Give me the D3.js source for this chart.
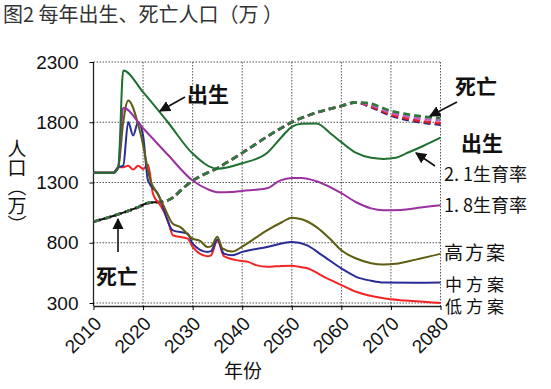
<!DOCTYPE html>
<html>
<head>
<meta charset="utf-8">
<script src="https://cdn.jsdelivr.net/npm/d3@7"></script>
<style>
  body { margin: 0; background: #fff; }
  svg { display: block; }
</style>
</head>
<body>
<script>
// tick labels
var xTicks = [2010, 2020, 2030, 2040, 2050, 2060, 2070, 2080];
var yTicks = [300, 800, 1300, 1800, 2300];

// births, [year, value]
var birth21 = [[2010,1380],[2014,1380],[2015,1426],[2016,2230],[2020,2050],[2025,1800],[2030,1540],[2035,1415],[2040,1460],[2045,1545],[2048,1680],[2050,1762],[2052,1788],[2055,1790],[2058,1700],[2060,1635],[2063,1545],[2066,1505],[2068.5,1496],[2071,1505],[2073,1540],[2076.5,1603],[2080,1672]];
var birth18 = [[2010,1380],[2014,1380],[2015,1426],[2016,1920],[2020,1750],[2025,1530],[2030,1316],[2033,1245],[2035,1220],[2038,1222],[2040,1230],[2045,1252],[2047.6,1316],[2050,1338],[2052,1338],[2055,1310],[2060,1211],[2063,1136],[2066,1085],[2068.5,1070],[2072,1072],[2076,1092],[2080,1112]];
var birthHigh = [[2010,1380],[2014,1380],[2015,1426],[2016,1800],[2017,1981],[2019.5,1704],[2021.5,1316],[2023,1200],[2024,1120],[2026,958],[2027.5,930],[2030,834],[2031.5,815],[2033,765],[2033.7,770],[2035,850],[2036,754],[2038,727],[2040,768],[2045,903],[2048,970],[2050,1008],[2052,995],[2055,930],[2058,820],[2060,737],[2063,669],[2066,630],[2068.5,620],[2071,625],[2075,660],[2080,708]];
var birthMid = [[2010,1380],[2014,1380],[2015,1426],[2016,1440],[2017,1803],[2018,1690],[2019,1803],[2020,1690],[2021,1316],[2023,1206],[2026,903],[2029,876],[2030,793],[2033,724],[2033.7,730],[2035,826],[2036.3,710],[2038,696],[2040,724],[2045,765],[2050,806],[2053,780],[2056,700],[2060,587],[2063,517],[2066,485],[2068.5,470],[2075,468],[2080,470]];
var birthLow = [[2010,1380],[2014,1380],[2015,1426],[2016,1426],[2017,1440],[2018,1407],[2019,1440],[2020,1412],[2021,1448],[2022,1206],[2023.5,1110],[2025,986],[2026,862],[2029,834],[2030,765],[2033,688],[2033.7,696],[2035,820],[2036.3,688],[2039.6,650],[2041.2,641],[2042.8,614],[2045,600],[2048,608],[2050,610],[2051.5,600],[2053,590],[2056.5,517],[2060,449],[2063,393],[2068.5,339],[2073,320],[2080,300]];

// deaths: shared part, then one tail per scenario
var deathCommon = [[2010,975],[2013,1010],[2016,1050],[2019,1095],[2021,1130],[2024,1140],[2026,1175],[2028,1250],[2030,1315],[2035,1420],[2040,1545],[2045,1680],[2050,1800],[2055,1880],[2060,1935],[2063,1965]];
var deathTail21 = [[2065,1962],[2070,1895],[2075,1855],[2080,1835]];
var deathTail18 = [[2065,1955],[2070,1880],[2075,1836],[2080,1814]];
var deathTailLow = [[2065,1947],[2070,1865],[2075,1816],[2080,1792]];
var deathTailMid = [[2065,1942],[2070,1856],[2075,1806],[2080,1780]];

var W = 551, H = 389;
var svg = d3.select('body').append('svg').attr('width', W).attr('height', H);

var x = d3.scaleLinear().domain([2010, 2080]).range([93.5, 440.5]);
var y = d3.scaleLinear().domain([300, 2300]).range([303, 62]);

var line = d3.line().curve(d3.curveMonotoneX)
  .x(function(d){ return x(d[0]); }).y(function(d){ return y(d[1]); });

// title
svg.append('text')
  .attr('x', 3).attr('y', 22)
  .style('font-family', '"Noto Sans CJK SC", sans-serif')
  .style('font-size', '20px')
  .attr('fill', '#333')
  .text('图2 每年出生、死亡人口（万 ）');

// grid
var grid = svg.append('g').attr('stroke', '#555').attr('stroke-width', 1).attr('stroke-dasharray', '1.5,1.5');
xTicks.slice(1).forEach(function(t){
  grid.append('line').attr('x1', x(t)).attr('x2', x(t)).attr('y1', y(2300)).attr('y2', y(300) + 3);
});
yTicks.forEach(function(t){
  grid.append('line').attr('x1', x(2010)).attr('x2', x(2080)).attr('y1', y(t)).attr('y2', y(t));
});

// axes
var yAxis = svg.append('g')
  .attr('transform', 'translate(' + x(2010) + ',0)')
  .call(d3.axisLeft(y).tickValues(yTicks).tickFormat(d3.format('d')).tickSize(4).tickSizeOuter(0).tickPadding(11));
yAxis.select('.domain').attr('stroke', '#222').attr('stroke-width', 1.3).attr('d', 'M0,' + y(2300) + 'V' + (y(300) + 3));
yAxis.selectAll('text').style('font-family', '"Liberation Sans", Arial, sans-serif').style('font-size', '19px').attr('fill', '#111');

var xAxis = svg.append('g')
  .attr('transform', 'translate(0,' + (y(300) + 3) + ')')
  .call(d3.axisBottom(x).tickValues(xTicks).tickFormat(d3.format('d')).tickSize(4).tickSizeOuter(0));
xAxis.select('.domain').attr('stroke', '#222').attr('stroke-width', 1.3);
xAxis.selectAll('text')
  .style('font-family', '"Liberation Sans", Arial, sans-serif').style('font-size', '19px').attr('fill', '#111')
  .attr('x', 0).attr('y', 0).attr('dy', '0.35em')
  .attr('transform', 'translate(4,14) rotate(-45)')
  .style('text-anchor', 'end');

// axis titles
svg.append('text')
  .attr('x', 243).attr('y', 378)
  .attr('text-anchor', 'middle')
  .style('font-family', '"Noto Sans CJK SC", sans-serif').style('font-size', '19px')
  .attr('fill', '#111')
  .text('年份');
svg.append('text')
  .attr('x', 17).attr('y', 139)
  .style('writing-mode', 'vertical-rl')
  .style('font-family', '"Noto Sans CJK SC", sans-serif').style('font-size', '19px')
  .attr('fill', '#111')
  .text('人口（万）');

// death series (dashed), drawn under the births
var deaths = [
  { data: deathCommon.concat(deathTailMid), color: '#26266e' },
  { data: deathCommon.concat(deathTailLow), color: '#e8202a' },
  { data: deathCommon.concat(deathTail18), color: '#c060c8' },
  { data: deathCommon.concat(deathTail21), color: '#2a7a3a' }
];
deaths.forEach(function(s, i){
  svg.append('path').attr('d', line(s.data))
    .attr('fill', 'none').attr('stroke', s.color).attr('stroke-width', 2.6)
    .attr('stroke-dasharray', '7,4');
});
// black dashes in early years
svg.append('path').attr('d', line(deathCommon.slice(0, 6)))
  .attr('fill', 'none').attr('stroke', '#111').attr('stroke-width', 2)
  .attr('stroke-dasharray', '6,5').attr('stroke-dashoffset', 5);

var births = [
  { data: birthLow, color: '#f42424' },
  { data: birthMid, color: '#2b2b96' },
  { data: birthHigh, color: '#5e5e12' },
  { data: birth18, color: '#9b30a0' },
  { data: birth21, color: '#1f6f30' }
];
births.forEach(function(s){
  svg.append('path').attr('d', line(s.data))
    .attr('fill', 'none').attr('stroke', s.color).attr('stroke-width', 2)
    .attr('stroke-linejoin', 'round');
});

// arrows
var defs = svg.append('defs');
defs.append('marker').attr('id', 'ah')
  .attr('viewBox', '0 0 10 10').attr('refX', 9).attr('refY', 5)
  .attr('markerWidth', 7).attr('markerHeight', 7).attr('orient', 'auto')
  .append('path').attr('d', 'M0,0L10,5L0,10z').attr('fill', '#111');
function arrow(x1, y1, x2, y2) {
  svg.append('line').attr('x1', x1).attr('y1', y1).attr('x2', x2).attr('y2', y2)
    .attr('stroke', '#111').attr('stroke-width', 1.6).attr('marker-end', 'url(#ah)');
}
arrow(185, 97, 160, 111);
arrow(118, 252, 118, 219);
arrow(457, 102, 430, 116);
arrow(435, 166, 416, 153);

function label(tx, ty, txt, size, bold, spacing) {
  svg.append('text').attr('x', tx).attr('y', ty)
    .style('font-family', '"Noto Sans CJK SC", sans-serif')
    .style('font-size', size + 'px')
    .style('font-weight', bold ? 'bold' : 'normal')
    .style('letter-spacing', (spacing || 0) + 'px')
    .attr('fill', '#111')
    .text(txt);
}
label(187, 102, '出生', 21, true);
label(96, 284, '死亡', 21, true);
label(455, 94, '死亡', 21, true);
label(461, 151, '出生', 21, true);
label(444, 181, '2. 1生育率', 18, false);
label(444, 212, '1. 8生育率', 18, false);
label(444, 260, '高方案', 19, false, 2);
label(445, 291, '中方案', 17, false, 4);
label(445, 313, '低方案', 17, false, 4);
</script>
</body>
</html>
